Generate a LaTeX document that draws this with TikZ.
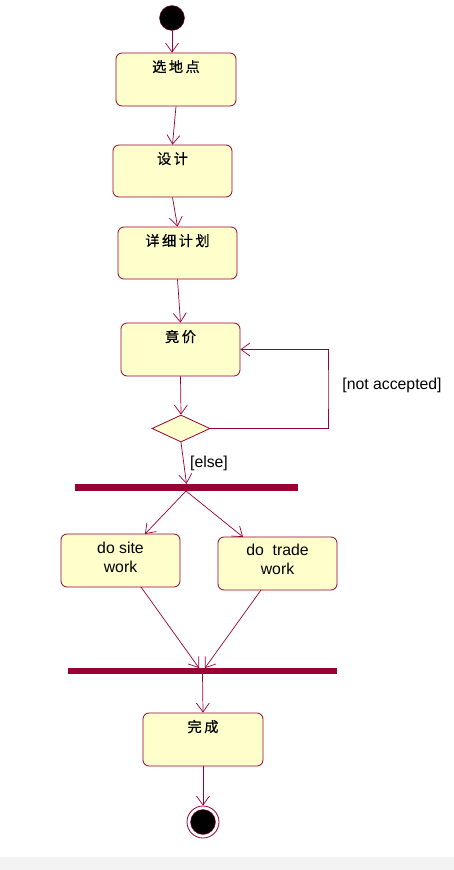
\documentclass[tikz,border=0pt]{standalone}
\usepackage{fontspec}
\setmainfont{Liberation Sans}
\newfontfamily\cjk{Noto Sans CJK SC}[FakeBold=0.6]
\usetikzlibrary{arrows.meta,shapes.geometric}
\definecolor{rose}{HTML}{990033}
\definecolor{act}{HTML}{FFFFCC}
\definecolor{strip}{HTML}{F3F3F3}
\newcommand\cg{\hspace{2.5pt}}
\begin{document}
\begin{tikzpicture}[x=1pt,y=-1pt,
  activity/.style={draw=rose, line width=0.8pt, fill=act, rounded corners=6pt,
    minimum width=119pt, minimum height=53pt, inner sep=0pt},
  syncbar/.style={fill=rose, inner sep=0pt},
  flow/.style={draw=rose, line width=0.7pt, -{Straight Barb[length=9pt,width=13pt]}},
  cjklabel/.style={inner sep=0pt, font=\cjk\fontsize{14.2}{17}\selectfont},
  enlabel/.style={inner sep=0pt, align=center, font=\fontsize{15.8}{19}\selectfont},
  guard/.style={inner sep=0pt, font=\fontsize{15.8}{18}\selectfont}]
\useasboundingbox (0,0) rectangle (454,870);
\fill[white] (0,0) rectangle (454,870);
\fill[strip] (0,857) rectangle (454,870);

% start
\node[circle, fill=black, draw=rose, minimum size=25pt, inner sep=0pt] (start) at (172,18) {};

% activities
\node[activity, minimum width=120pt] (b1) at (176,79.5) {};
\node[cjklabel] (t1) at ([yshift=-14pt]b1.north) {选\cg 地\cg 点};
\node[activity, minimum height=52pt] (b2) at (172.5,171) {};
\node[cjklabel] (t2) at ([yshift=-14pt]b2.north) {设\cg 计};
\node[activity, minimum height=52pt] (b3) at (177.5,253) {};
\node[cjklabel] (t3) at ([yshift=-14pt]b3.north) {详\cg 细\cg 计\cg 划};
\node[activity] (b4) at (180.5,349.5) {};
\node[cjklabel] (t4) at ([yshift=-14pt]b4.north) {竟\cg 价};

% decision
\node[diamond, draw=rose, fill=act, line width=0.8pt, inner sep=0pt, aspect=2.15,
  minimum width=58pt, minimum height=27pt] (d) at (181,428.5) {};

% fork bar
\node[syncbar, minimum width=223pt, minimum height=7pt] (bar1) at (186.5,487.5) {};

\node[activity] (b5) at (120.5,560.5) {};
\node[enlabel] (t5) at ([yshift=-23.5pt]b5.north) {do site\\work};
\node[activity] (b6) at (277.5,563.5) {};
\node[enlabel] (t6) at ([yshift=-22.5pt]b6.north) {do\ \ trade\\work};

% join bar
\node[syncbar, minimum width=269pt, minimum height=6pt] (bar2) at (202.5,671) {};

\node[activity, minimum width=120pt] (b7) at (203,739.5) {};
\node[cjklabel] (t7) at ([yshift=-14pt]b7.north) {完\cg 成};

% end
\node[circle, draw=rose, fill=white, line width=0.8pt, minimum size=32pt, inner sep=0pt] (endo) at (203,822) {};
\node[circle, fill=black, draw=rose, minimum size=25pt, inner sep=0pt] (endi) at (203,822) {};

% coordinates
\coordinate (loop) at (328,390);
\coordinate (fork) at (186,491);
\coordinate (a5) at (145,534);
\coordinate (a6) at (243,537);
\coordinate (s5) at (141,587);
\coordinate (s6) at (261,590);
\coordinate (j5) at (199,668);
\coordinate (j6) at (205,668);

% flows
\draw[flow] (start.south) -- (start.south |- b1.north);
\draw[flow] (b1.south) -- (b2.north);
\draw[flow] (b2.south) -- (b3.north);
\draw[flow] (b3.south) -- (b4.north);
\draw[flow] (b4.south) -- (d.north);
\draw[flow] (d.east) -| (loop) |- (b4.east);
\draw[flow] (d.south) -- (bar1.north);
\draw[flow] (fork) -- (a5);
\draw[flow] (fork) -- (a6);
\draw[flow] (s5) -- (j5);
\draw[flow] (s6) -- (j6);
\draw[flow] (bar2.south) -- (b7.north);
\draw[flow] (b7.south) -- (endo.north);

% guards
\node[guard] (na) at (392,385) {[not accepted]};
\node[guard] (el) at (209,463) {[else]};
\end{tikzpicture}
\end{document}
